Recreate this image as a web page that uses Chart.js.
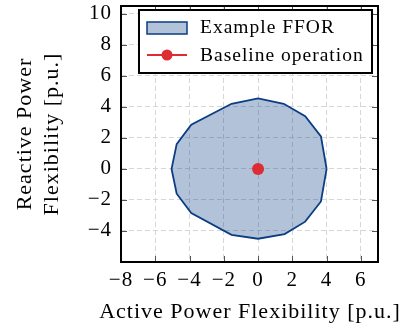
<!DOCTYPE html>
<html>
<head>
<meta charset="utf-8">
<script src="https://cdn.jsdelivr.net/npm/chart.js@4/dist/chart.umd.min.js"></script>
<style>
html,body{margin:0;padding:0;background:#fff;}
#wrap{width:407px;height:335px;position:relative;}
</style>
</head>
<body>
<div id="wrap"><canvas id="c"></canvas></div>
<script>
// ---- data ----
const fforP = [4.0, 3.67, 2.75, 1.5, 0, -1.55, -3.9, -4.75, -5.05, -4.75, -3.9, -1.55, 0, 1.55, 2.75, 3.67, 4.0];
const fforQ = [0, 2.1, 3.4, 4.2, 4.55, 4.2, 2.85, 1.6, 0, -1.6, -2.85, -4.25, -4.5, -4.2, -3.4, -2.1, 0];
const baselineP = [0];
const baselineQ = [0];
const xTickValues = [-8, -6, -4, -2, 0, 2, 4, 6];
const yTickValues = [-4, -2, 0, 2, 4, 6, 8, 10];
const seriesLabels = ['Example FFOR', 'Baseline operation'];
const xTitle = 'Active Power Flexibility [p.u.]';
const yTitle = ['Reactive Power', 'Flexibility [p.u.]'];

const FONT = "'Liberation Serif', 'Times New Roman', serif";
const SPACING = '1px';
const fillCol = 'rgba(20,70,140,0.33)';
const lineCol = '#0b3d82';
const redCol = '#dd2c33';

const fmt = v => (v < 0 ? '\u2212' + Math.abs(v) : String(v));

const spacingPlugin = {
  id: 'spacing',
  beforeLayout(chart) { chart.ctx.letterSpacing = SPACING; },
  beforeDraw(chart) { chart.ctx.letterSpacing = SPACING; }
};

const framePlugin = {
  id: 'frame',
  afterDatasetsDraw(chart) {
    const {ctx, chartArea: a, scales: {x, y}} = chart;
    ctx.save();
    ctx.strokeStyle = '#555';
    ctx.lineWidth = 1;
    const tl = 6;
    ctx.beginPath();
    xTickValues.forEach(v => {
      const px = Math.round(x.getPixelForValue(v)) + 0.5;
      ctx.moveTo(px, a.bottom); ctx.lineTo(px, a.bottom - tl);
      ctx.moveTo(px, a.top); ctx.lineTo(px, a.top + tl);
    });
    yTickValues.forEach(v => {
      const py = Math.round(y.getPixelForValue(v)) + 0.5;
      ctx.moveTo(a.left, py); ctx.lineTo(a.left + tl, py);
      ctx.moveTo(a.right, py); ctx.lineTo(a.right - tl, py);
    });
    ctx.stroke();
    ctx.strokeStyle = '#000';
    ctx.lineWidth = 2;
    ctx.strokeRect(a.left, a.top, a.right - a.left, a.bottom - a.top);
    ctx.restore();
  },
  afterDraw(chart) {
    const {ctx, chartArea: a} = chart;
    const ds = chart.data.datasets;
    ctx.save();
    // x-axis title (drawn without width compression)
    ctx.fillStyle = '#000';
    ctx.font = '22px ' + FONT;
    ctx.letterSpacing = SPACING;
    ctx.textAlign = 'center';
    ctx.textBaseline = 'middle';
    ctx.fillText(chart.options.scales.x.title.text, (a.left + a.right) / 2 + 0.5, 312);
    // legend
    const bx = 139, by = 10, bw = 233, bh = 63;
    ctx.fillStyle = '#fff';
    ctx.fillRect(bx, by, bw, bh);
    ctx.strokeStyle = '#000';
    ctx.lineWidth = 2;
    ctx.strokeRect(bx, by, bw, bh);
    ctx.fillStyle = ds[0].backgroundColor;
    ctx.fillRect(147, 22, 40, 12);
    ctx.strokeStyle = ds[0].borderColor;
    ctx.lineWidth = 1.5;
    ctx.strokeRect(147, 22, 40, 12);
    ctx.strokeStyle = ds[1].borderColor;
    ctx.lineWidth = 2;
    ctx.beginPath(); ctx.moveTo(147, 55); ctx.lineTo(187, 55); ctx.stroke();
    ctx.fillStyle = ds[1].backgroundColor;
    ctx.beginPath(); ctx.arc(167, 55, 5.5, 0, Math.PI * 2); ctx.fill();
    ctx.fillStyle = '#000';
    ctx.font = '19.5px ' + FONT;
    ctx.textBaseline = 'middle';
    ctx.textAlign = 'left';
    ctx.fillText(ds[0].label, 200, 28);
    ctx.fillText(ds[1].label, 200, 56);
    ctx.restore();
  }
};

new Chart(document.getElementById('c'), {
  type: 'scatter',
  data: {
    datasets: [
      {
        label: seriesLabels[0],
        data: fforP.map((p, i) => ({x: p, y: fforQ[i]})),
        showLine: true,
        fill: 'shape',
        backgroundColor: fillCol,
        borderColor: lineCol,
        borderWidth: 1.8,
        pointRadius: 0,
        tension: 0,
        order: 2
      },
      {
        label: seriesLabels[1],
        data: baselineP.map((p, i) => ({x: p, y: baselineQ[i]})),
        showLine: false,
        backgroundColor: redCol,
        borderColor: redCol,
        pointRadius: 6,
        pointBorderWidth: 0,
        order: 1
      }
    ]
  },
  options: {
    responsive: true,
    maintainAspectRatio: false,
    animation: false,
    layout: {padding: {left: 0, right: 29, top: 4, bottom: 0}},
    plugins: {legend: {display: false}, tooltip: {enabled: false}},
    scales: {
      x: {
        type: 'linear', min: -8, max: 7,
        afterBuildTicks: s => { s.ticks = xTickValues.map(v => ({value: v})); },
        afterFit: s => { s.height = 73; s.paddingLeft = 0; s.paddingRight = 0; },
        grid: {color: c => (c.tick && c.tick.value === -8 ? 'rgba(0,0,0,0)' : '#d6d6d6'), drawTicks: false, lineWidth: 1},
        border: {display: false, dash: [5, 3]},
        ticks: {color: '#000', font: {family: FONT, size: 21, lineHeight: 1.2}, padding: 6, maxRotation: 0, autoSkip: false, callback: v => fmt(v)},
        title: {display: false, text: xTitle}
      },
      y: {
        type: 'linear', min: -6, max: 10.5,
        afterBuildTicks: s => { s.ticks = yTickValues.map(v => ({value: v})); },
        afterFit: s => { s.width = 121; s.paddingTop = 0; s.paddingBottom = 0; },
        grid: {color: '#d6d6d6', drawTicks: false, lineWidth: 1},
        border: {display: false, dash: [5, 3]},
        ticks: {color: '#000', font: {family: FONT, size: 21, lineHeight: 1.2}, padding: 9, autoSkip: false, callback: v => fmt(v)},
        title: {display: true, text: yTitle, color: '#000', font: {family: FONT, size: 22, lineHeight: 1.25}, padding: {top: 11, bottom: 0}}
      }
    }
  },
  plugins: [spacingPlugin, framePlugin]
});
</script>
</body>
</html>
